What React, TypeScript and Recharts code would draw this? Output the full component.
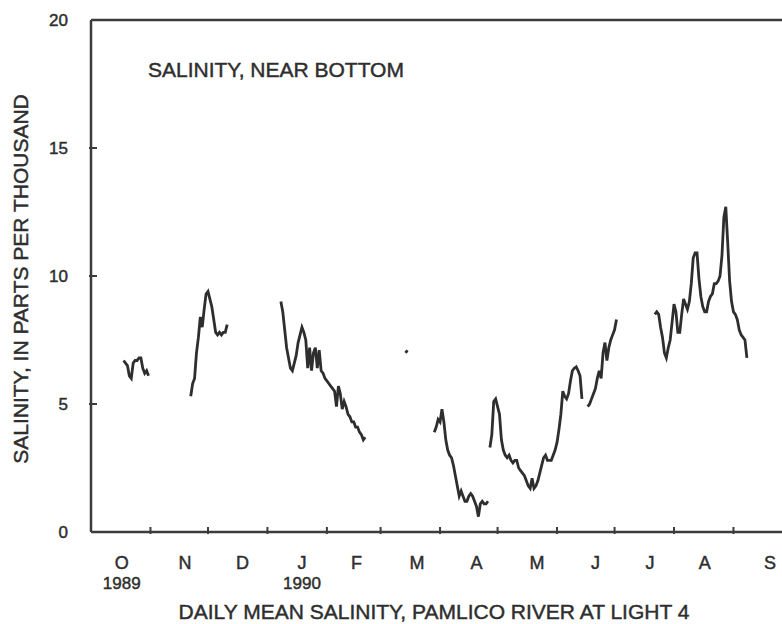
import { LineChart, Line, XAxis, YAxis } from 'recharts';

// days counted from Oct 1, 1989
const monthStarts = [0, 31, 61, 92, 123, 151, 182, 212, 243, 273, 304, 335, 365];
const monthLabels = ['O', 'N', 'D', 'J', 'F', 'M', 'A', 'M', 'J', 'J', 'A', 'S'];
const monthLabelDays = [16, 49, 79, 110, 138.5, 170, 201, 232.5, 263, 291.5, 320, 354];
const yearLabels: Record<number, string> = { 0: '1989', 3: '1990' };
const yTicks = [0, 5, 10, 15, 20];

// daily mean salinity segments (start day, values)
const octStart = 17;
const octVals = [6.7, 6.6, 6.5, 6.1, 6.0, 6.6, 6.7, 6.7, 6.8, 6.8, 6.4, 6.2, 6.3, 6.1];

const novStart = 52;
const novVals = [5.3, 5.8, 6.0, 7.0, 7.6, 8.4, 8.0, 8.7, 9.3, 9.4, 9.1, 8.8, 8.3, 7.8, 7.7, 7.8, 7.7, 7.8, 7.8, 8.1];

const janStart = 99;
const janVals = [
  9.0, 8.6, 7.9, 7.2, 6.8, 6.4, 6.3, 6.6, 6.9, 7.4, 7.7, 8.0, 7.8, 7.5, 6.4, 7.2, 6.3, 7.0, 7.2, 6.4, 7.1, 6.3,
  6.2, 6.0, 5.9, 5.8, 5.7, 5.6, 5.5, 4.9, 5.7, 5.4, 4.8, 5.1, 4.9, 4.6, 4.5, 4.3, 4.3, 4.1, 4.1, 3.9, 3.8, 3.6, 3.7,
];

const marStart = 164;
const marVals = [7.0, 7.1];

const aprStart = 179;
const aprVals = [
  3.9, 4.1, 4.4, 4.3, 4.8, 4.3, 3.6, 3.2, 3.0, 2.9, 2.6, 2.2, 1.8, 1.4, 1.6, 1.4, 1.2, 1.2, 1.4, 1.5, 1.4, 1.2,
  1.0, 0.6, 1.1, 1.2, 1.1, 1.1, 1.2,
];

const mayStart = 208;
const mayVals = [
  3.3, 3.8, 5.1, 5.2, 4.9, 4.6, 3.6, 3.2, 3.0, 2.9, 3.0, 2.8, 2.7, 2.8, 2.8, 2.5, 2.4, 2.3, 2.2, 2.0, 1.8, 1.7,
  2.1, 1.7, 1.8, 2.0, 2.3, 2.6, 2.9, 3.0, 2.8, 2.8, 2.8, 3.0, 3.2, 3.5, 4.0, 4.6, 5.5, 5.3, 5.2, 5.4, 5.9, 6.3,
  6.4, 6.45, 6.3, 6.1, 5.2,
];

const junStart = 259;
const junVals = [4.9, 5.0, 5.2, 5.4, 5.6, 6.0, 6.3, 6.0, 7.0, 7.4, 6.7, 7.2, 7.5, 7.7, 7.9, 8.3];

const julStart = 294;
const julVals = [
  8.5, 8.6, 8.5, 8.0, 7.6, 7.0, 6.8, 7.2, 7.5, 8.2, 8.9, 8.6, 7.8, 7.8, 8.5, 9.1, 8.9, 8.7, 9.0, 9.7, 10.7, 10.9,
  10.9, 9.9, 9.2, 8.8, 8.6, 8.6, 9.0, 9.2, 9.3, 9.7, 9.7, 9.8, 10.0, 10.8, 12.3, 12.7, 11.3, 9.8, 9.0, 8.6, 8.5,
  8.3, 7.9, 7.7, 7.6, 7.5, 6.8,
];

const toSeries = (start: number, vals: number[]) => vals.map((v, i) => ({ day: start + i, sal: v }));

const segments = [
  toSeries(octStart, octVals),
  toSeries(novStart, novVals),
  toSeries(janStart, janVals),
  toSeries(marStart, marVals),
  toSeries(aprStart, aprVals),
  toSeries(mayStart, mayVals),
  toSeries(junStart, junVals),
  toSeries(julStart, julVals),
];

const FONT = '"Liberation Sans", Arial, Helvetica, sans-serif';
const INK = '#2e2e2e';
const AXIS = '#3c3c3c';

// slightly heavy text, like the scanned original
const heavy = { stroke: INK, strokeWidth: 0.45 };

const bottomTicks = [...monthStarts, ...monthLabelDays].sort((a, b) => a - b);

function BottomTick(props: any) {
  const { x, y, payload } = props;
  const li = monthLabelDays.indexOf(payload.value);
  if (li >= 0) {
    return (
      <g>
        <text x={x} y={y + 35} textAnchor="middle" fontFamily={FONT} fontSize={18} fill={INK} {...heavy}>
          {monthLabels[li]}
        </text>
        {yearLabels[li] && (
          <text x={x} y={y + 55} textAnchor="middle" fontFamily={FONT} fontSize={17} fill={INK} {...heavy}>
            {yearLabels[li]}
          </text>
        )}
      </g>
    );
  }
  if (payload.value <= 0 || payload.value >= 365) return null;
  return <line x1={x} x2={x} y1={y} y2={y - 7} stroke={AXIS} strokeWidth={2} />;
}

function TopTick(props: any) {
  const { x, y, payload } = props;
  if (payload.value <= 0 || payload.value >= 365) return null;
  return <line x1={x} x2={x} y1={y} y2={y + 7} stroke={AXIS} strokeWidth={2} />;
}

function LeftTick(props: any) {
  const { x, y, payload } = props;
  const inner = payload.value > 0 && payload.value < 20;
  return (
    <g>
      <text x={x - 21} y={y + 6} textAnchor="end" fontFamily={FONT} fontSize={17} fill={INK} {...heavy}>
        {payload.value}
      </text>
      {inner && <line x1={x} x2={x + 8} y1={y} y2={y} stroke={AXIS} strokeWidth={2} />}
    </g>
  );
}

function RightTick(props: any) {
  const { x, y, payload } = props;
  if (payload.value <= 0 || payload.value >= 20) return null;
  return <line x1={x} x2={x - 8} y1={y} y2={y} stroke={AXIS} strokeWidth={2} />;
}

export default function App() {
  return (
    <div style={{ position: 'absolute', left: 0, top: 0, width: 782, height: 624, overflow: 'hidden', background: '#fff' }}>
      <LineChart width={800} height={624} margin={{ top: 0, right: 0, bottom: 0, left: 0 }}>
        <XAxis
          xAxisId="bottom"
          dataKey="day"
          type="number"
          domain={[0, 365]}
          ticks={bottomTicks}
          interval={0}
          height={92}
          tickSize={0}
          tickLine={false}
          axisLine={{ stroke: AXIS, strokeWidth: 2.5 }}
          tick={<BottomTick />}
        />
        <XAxis
          xAxisId="top"
          orientation="top"
          dataKey="day"
          type="number"
          domain={[0, 365]}
          ticks={monthStarts}
          interval={0}
          height={20}
          tickSize={0}
          tickLine={false}
          axisLine={{ stroke: AXIS, strokeWidth: 2.5 }}
          tick={<TopTick />}
        />
        <YAxis
          yAxisId="left"
          type="number"
          domain={[0, 20]}
          ticks={yTicks}
          interval={0}
          width={91}
          tickSize={0}
          tickLine={false}
          axisLine={{ stroke: AXIS, strokeWidth: 2.5 }}
          tick={<LeftTick />}
        />
        <YAxis
          yAxisId="right"
          orientation="right"
          type="number"
          domain={[0, 20]}
          ticks={yTicks}
          interval={0}
          width={9}
          tickSize={0}
          tickLine={false}
          axisLine={{ stroke: AXIS, strokeWidth: 2.5 }}
          tick={<RightTick />}
        />
        {segments.map((seg, i) => (
          <Line
            key={i}
            data={seg}
            dataKey="sal"
            xAxisId="bottom"
            yAxisId="left"
            type="linear"
            stroke={INK}
            strokeWidth={2.8}
            dot={false}
            isAnimationActive={false}
          />
        ))}
        <text x={148} y={77} fontFamily={FONT} fontSize={21} fill={INK} {...heavy}>
          SALINITY, NEAR BOTTOM
        </text>
        <text x={434} y={619} textAnchor="middle" fontFamily={FONT} fontSize={21} fill={INK} {...heavy}>
          DAILY MEAN SALINITY, PAMLICO RIVER AT LIGHT 4
        </text>
        <text
          x={28}
          y={279}
          textAnchor="middle"
          transform="rotate(-90 28 279)"
          fontFamily={FONT}
          fontSize={21}
          fill={INK}
          {...heavy}
        >
          SALINITY, IN PARTS PER THOUSAND
        </text>
      </LineChart>
    </div>
  );
}
